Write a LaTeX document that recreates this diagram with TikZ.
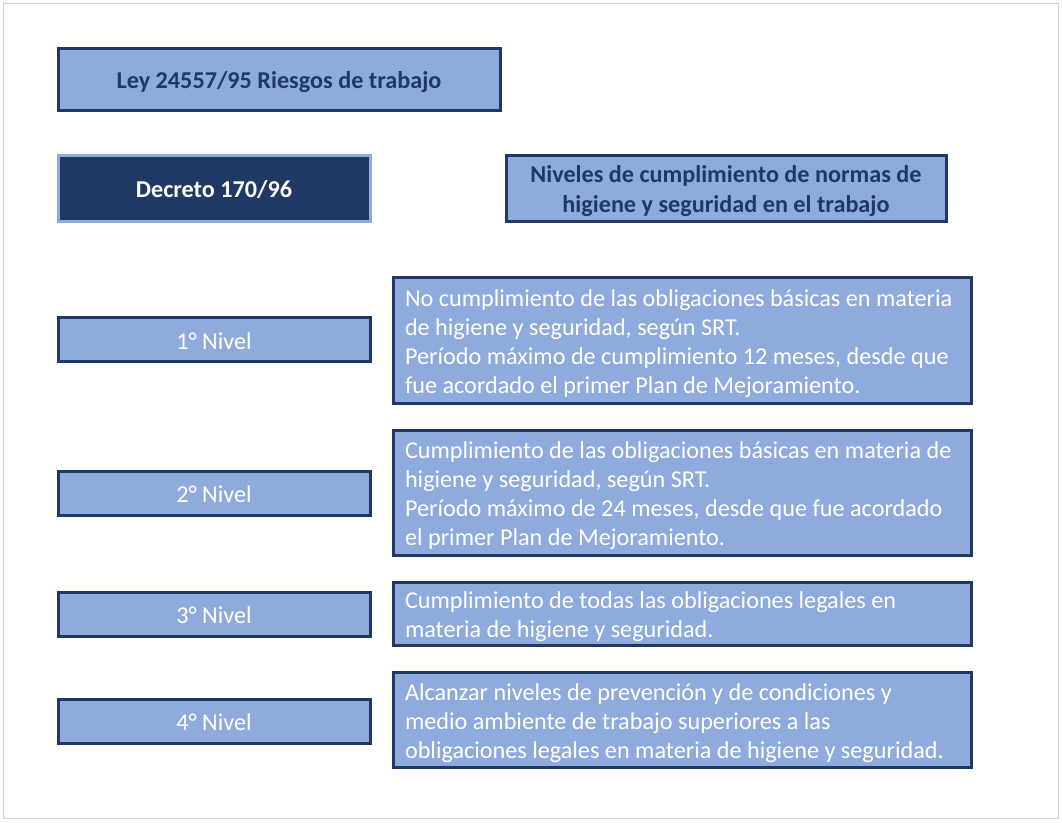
\documentclass[tikz,border=0pt]{standalone}
\usepackage{fontspec}
\setmainfont{Carlito}
\definecolor{lightblue}{HTML}{8FAADC}
\definecolor{navy}{HTML}{1F3864}
\definecolor{framegray}{HTML}{D0D0D0}
\newcommand{\toppad}{\rule{0pt}{24pt}}
\begin{document}
\begin{tikzpicture}[
    x=1pt, y=-1pt,
    base/.style={rectangle, inner sep=0pt, line width=3pt, font=\fontsize{24.2}{29}\selectfont},
    title/.style={base, draw=navy, fill=lightblue, text=navy, font=\fontsize{24.2}{30}\selectfont\bfseries, align=center},
    decreto/.style={base, draw=lightblue, fill=navy, text=white, font=\fontsize{24.2}{29}\selectfont\bfseries},
    nivel/.style={base, draw=navy, fill=lightblue, text=white, minimum width=312pt, minimum height=44pt, text height=19pt, text depth=0pt},
    detail/.style={base, draw=navy, fill=lightblue, text=white, minimum width=578pt, text width=554pt, align=flush left}
]

% outer frame
\draw[framegray, line width=1pt] (3,3) rectangle (1058.5,818.5);
\useasboundingbox (0,0) rectangle (1062,822);

% Titles
\node[title, minimum width=442pt, minimum height=62pt, text height=21pt, text depth=2pt] (ley) at (279, 79) {Ley 24557/95 Riesgos de trabajo};
\node[decreto, minimum width=312pt, minimum height=66pt, text height=20pt, text depth=2pt] (decreto) at (214, 188) {Decreto 170/96};
\node[title, minimum width=440pt, minimum height=66pt] (niveles) at (726, 188) {\toppad Niveles de cumplimiento de normas de\\higiene y seguridad en el trabajo};

% Nivel labels (left column)
\foreach \i/\y in {1/339.5, 2/493, 3/614, 4/721} {
    \node[nivel] (nivel\i) at (214, \y) {\i° Nivel};
}

% Level descriptions (right column)
\node[detail, minimum height=126pt] (desc1) at (682, 340) {\toppad No cumplimiento de las obligaciones básicas en materia\\de higiene y seguridad, según SRT.\\Período máximo de cumplimiento 12 meses, desde que\\fue acordado el primer Plan de Mejoramiento.};
\node[detail, minimum height=125pt] (desc2) at (682, 492.5) {\toppad Cumplimiento de las obligaciones básicas en materia de\\higiene y seguridad, según SRT.\\Período máximo de 24 meses, desde que fue acordado\\el primer Plan de Mejoramiento.};
\node[detail, minimum height=63pt] (desc3) at (682, 613.5) {\toppad Cumplimiento de todas las obligaciones legales en\\materia de higiene y seguridad.};
\node[detail, minimum height=95pt] (desc4) at (682, 719.5) {\toppad Alcanzar niveles de prevención y de condiciones y\\medio ambiente de trabajo superiores a las\\obligaciones legales en materia de higiene y seguridad.};

\end{tikzpicture}
\end{document}
